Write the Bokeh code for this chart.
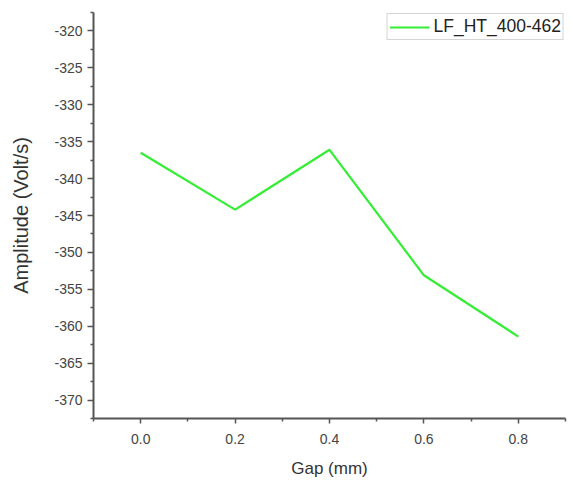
from bokeh.plotting import figure
from bokeh.models import Range1d, FixedTicker, Legend, LegendItem
from bokeh.embed import file_html
from bokeh.resources import INLINE

gap_mm = [0.0, 0.2, 0.4, 0.6, 0.8]
amplitude = [-336.5, -344.2, -336.1, -353.1, -361.4]
series_name = "LF_HT_400-462"
x_ticks = [0.0, 0.2, 0.4, 0.6, 0.8]
x_labels = ["0.0", "0.2", "0.4", "0.6", "0.8"]
y_ticks = [-320, -325, -330, -335, -340, -345, -350, -355, -360, -365, -370]
y_labels = ["-320", "-325", "-330", "-335", "-340", "-345", "-350", "-355", "-360", "-365", "-370"]
x_minor = [-0.1, 0.1, 0.3, 0.5, 0.7, 0.9]
y_minor = [-317.5, -322.5, -327.5, -332.5, -337.5, -342.5, -347.5, -352.5, -357.5, -362.5, -367.5, -372.5]

p = figure(frame_width=472, frame_height=406, output_backend="svg", toolbar_location=None,
           x_range=Range1d(-0.1, 0.9), y_range=Range1d(-372.5, -317.5),
           min_border_left=93, min_border_right=8, min_border_top=12, min_border_bottom=65)
p.outline_line_color = None
p.xgrid.visible = False
p.ygrid.visible = False
p.background_fill_color = "white"
p.border_fill_color = "white"

r = p.line(gap_mm, amplitude, line_color="#33ee33", line_width=2.2)

font = "Liberation Sans"
for ax in (p.xaxis[0], p.yaxis[0]):
    ax.axis_line_color = "#555555"
    ax.axis_line_width = 2
    ax.major_tick_line_color = "#555555"
    ax.minor_tick_line_color = "#555555"
    ax.major_tick_line_width = 1.5
    ax.minor_tick_line_width = 1.5
    ax.major_tick_in = 0
    ax.minor_tick_in = 0
    ax.major_label_text_font = font
    ax.major_label_text_font_size = "14px"
    ax.major_label_text_color = "#444444"
    ax.axis_label_text_font = font
    ax.axis_label_text_font_style = "normal"
    ax.axis_label_text_color = "#333333"

p.xaxis.ticker = FixedTicker(ticks=x_ticks, minor_ticks=x_minor)
p.yaxis.ticker = FixedTicker(ticks=y_ticks, minor_ticks=y_minor)
p.xaxis.major_label_overrides = dict(zip(x_ticks, x_labels))
p.yaxis.major_label_overrides = dict(zip(y_ticks, y_labels))
p.xaxis.major_tick_out = 5
p.xaxis.minor_tick_out = 3
p.yaxis.major_tick_out = 6
p.yaxis.minor_tick_out = 3
p.xaxis.major_label_standoff = 10
p.yaxis.major_label_standoff = 5
p.xaxis.axis_label = "Gap (mm)"
p.yaxis.axis_label = "Amplitude (Volt/s)"
p.xaxis.axis_label_text_font_size = "17px"
p.yaxis.axis_label_text_font_size = "20px"
p.xaxis.axis_label_standoff = 12
p.yaxis.axis_label_standoff = 19

legend = Legend(items=[LegendItem(label=series_name, renderers=[r])], location="top_right")
legend.margin = 1
legend.padding = 2
legend.spacing = 0
legend.glyph_width = 40
legend.glyph_height = 20
legend.label_height = 20
legend.label_standoff = 4
legend.label_text_font = font
legend.label_text_font_size = "17.5px"
legend.label_text_color = "#222222"
legend.border_line_color = "#aaaaaa"
legend.border_line_width = 1.5
legend.background_fill_alpha = 1
p.add_layout(legend)

open("out.html", "w").write(file_html(p, INLINE))
